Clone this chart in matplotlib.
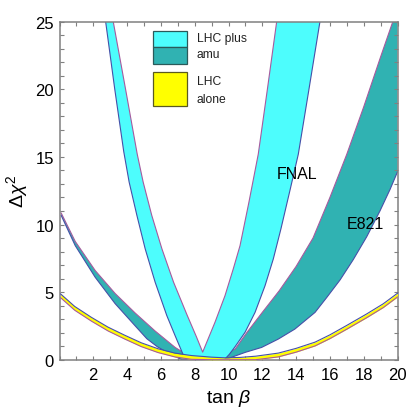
import numpy as np
import matplotlib
matplotlib.use("Agg")
import matplotlib.pyplot as plt
from matplotlib.patches import Rectangle

plt.rcParams["font.family"] = ["Liberation Sans", "DejaVu Sans"]
plt.rcParams["mathtext.fontset"] = "custom"
plt.rcParams["mathtext.rm"] = "Liberation Sans"
plt.rcParams["mathtext.it"] = "Liberation Sans:italic"

# LHC plus amu, FNAL precision (cyan band)
cyan_outer_x = [2.73, 3.27, 3.8, 4.12, 4.58, 5.07, 5.66, 6.35, 6.84, 7.34, 7.6,
                9.75, 10.05, 10.38, 10.98, 11.57, 12.16, 12.65, 13.1, 13.65, 14.13, 14.76, 15.41]
cyan_outer_y = [25.0, 20.0, 15.4, 13.14, 10.67, 8.2, 5.73, 3.26, 1.78, 0.3, 0.0,
                0.0, 0.4, 0.95, 2.03, 3.5, 5.47, 7.45, 9.67, 12.6, 15.2, 20.0, 25.0]
cyan_inner_x = [3.18, 3.91, 4.6, 4.95, 5.46, 6.06, 6.75, 7.55, 8.1, 8.47,
                9.2, 9.79, 10.28, 10.68, 11.2, 11.76, 12.3, 12.85]
cyan_inner_y = [25.0, 20.0, 15.2, 13.14, 10.67, 8.2, 5.73, 3.3, 1.7, 0.56,
                2.77, 4.73, 6.71, 8.43, 11.6, 15.2, 20.0, 25.0]

# LHC plus amu, E821 precision (teal band)
teal_outer_x = [0.1, 0.93, 2.11, 3.29, 4.48, 5.17, 5.8, 6.5, 7.24,
                9.7, 10.0, 10.98, 11.96, 12.95, 13.93, 15.12, 15.81, 16.6, 17.38,
                18.18, 18.96, 19.56, 20.0]
teal_outer_y = [10.67, 8.44, 6.1, 4.15, 2.5, 1.55, 0.95, 0.45, 0.0,
                0.0, 0.1, 0.54, 0.91, 1.53, 2.27, 3.5, 4.6, 5.9, 7.4,
                9.1, 11.0, 12.6, 13.9]
teal_inner_x = [0.1, 0.93, 2.11, 3.29, 4.48, 5.66, 6.84, 7.63, 8.6,
                9.4, 10.4, 11.08, 12.0, 13.0, 14.0, 15.0, 16.0, 17.0, 18.0, 19.0, 19.72]
teal_inner_y = [10.85, 8.75, 6.6, 4.9, 3.45, 2.12, 0.91, 0.3, 0.0,
                0.2, 0.8, 2.0, 3.5, 5.1, 6.9, 9.0, 12.0, 15.2, 18.7, 22.4, 25.0]

# LHC alone (yellow band)
yellow_x = [0.07, 0.9, 1.88, 2.87, 3.86, 4.84, 5.83, 6.82, 7.8, 8.99, 9.8,
            10.68, 11.6, 12.95, 14.0, 15.12, 16.0, 17.0, 18.18, 19.16, 20.0]
yellow_upper = [4.86, 3.94, 3.14, 2.41, 1.81, 1.25, 0.81, 0.49, 0.31, 0.19, 0.14,
                0.17, 0.26, 0.49, 0.84, 1.30, 1.84, 2.54, 3.39, 4.14, 4.92]
yellow_lower = [4.58, 3.66, 2.86, 2.13, 1.53, 0.97, 0.53, 0.21, 0.03, 0.0, 0.0,
                0.0, 0.0, 0.21, 0.56, 1.02, 1.56, 2.26, 3.11, 3.86, 4.64]

legend_text = ["LHC plus", "amu", "LHC", "alone"]

c_cyan = "#4dfdfd"
c_teal = "#30b2b2"
c_yellow = "#ffff00"
c_mauve = "#a65a9e"
c_blue = "#4650a8"

fig = plt.figure(figsize=(4.09, 4.14), dpi=100)
ax = fig.add_axes([0.1455, 0.1287, 0.8264, 0.8164])

# teal band
px = teal_outer_x + [teal_outer_x[-1]] + teal_inner_x[::-1]
py = teal_outer_y + [teal_inner_y[-1]] + teal_inner_y[::-1]
ax.fill(px, py, color=c_teal, lw=0, zorder=1)
ax.plot(teal_outer_x, teal_outer_y, color=c_blue, lw=0.8, zorder=1.5)
ax.plot(teal_inner_x, teal_inner_y, color=c_mauve, lw=0.8, zorder=1.5)

# cyan band
px = cyan_outer_x + cyan_inner_x[::-1]
py = cyan_outer_y + cyan_inner_y[::-1]
ax.fill(px, py, color=c_cyan, lw=0, zorder=2)
ax.plot(cyan_outer_x, cyan_outer_y, color=c_blue, lw=0.8, zorder=2.5)
ax.plot(cyan_inner_x, cyan_inner_y, color=c_mauve, lw=0.8, zorder=2.5)

# yellow band
ax.fill_between(yellow_x, yellow_lower, yellow_upper, color=c_yellow, lw=0, zorder=3)
ax.plot(yellow_x, yellow_upper, color=c_blue, lw=0.8, zorder=3.5)
ax.plot(yellow_x, yellow_lower, color=c_mauve, lw=0.8, zorder=3.5)

ax.text(14.04, 13.8, "FNAL", fontsize=11.5, ha="center", va="center", zorder=5)
ax.text(18.08, 10.04, "E821", fontsize=11.5, ha="center", va="center", zorder=5)

# legend drawn by hand
ax.add_patch(Rectangle((0.2757, 0.9243), 0.1006, 0.0491, transform=ax.transAxes,
                       facecolor=c_cyan, edgecolor="#2a5a5a", lw=0.9, zorder=6))
ax.add_patch(Rectangle((0.2757, 0.8743), 0.1006, 0.05, transform=ax.transAxes,
                       facecolor=c_teal, edgecolor="#2a5a5a", lw=0.9, zorder=6))
ax.add_patch(Rectangle((0.2757, 0.7497), 0.1006, 0.1006, transform=ax.transAxes,
                       facecolor=c_yellow, edgecolor="#5a5a20", lw=0.9, zorder=6))
for txt, yy in zip(legend_text, [0.951, 0.9044, 0.8237, 0.7713]):
    ax.text(0.406, yy, txt, transform=ax.transAxes, fontsize=8.7,
            ha="left", va="center", color="#222222", zorder=6)

ax.set_xlim(0, 20)
ax.set_ylim(0, 25)
ax.set_xticks(np.arange(2, 21, 2))
ax.set_xticks(np.arange(0, 21, 1), minor=True)
ax.set_yticks(np.arange(0, 26, 5))
ax.set_yticks(np.arange(0, 26, 1), minor=True)
ax.tick_params(which="both", direction="in", top=True, right=True,
               length=3, width=0.8, color="#808080", labelsize=12)
ax.tick_params(axis="x", pad=5.5)
ax.tick_params(axis="y", pad=4)
for s in ax.spines.values():
    s.set_color("#808080")
    s.set_linewidth(1.1)

ax.set_xlabel(r"tan $\beta$", fontsize=14, labelpad=3)
ax.set_ylabel(r"$\Delta\chi^2$", fontsize=14, labelpad=4)

fig.savefig("out.png", dpi=100)
